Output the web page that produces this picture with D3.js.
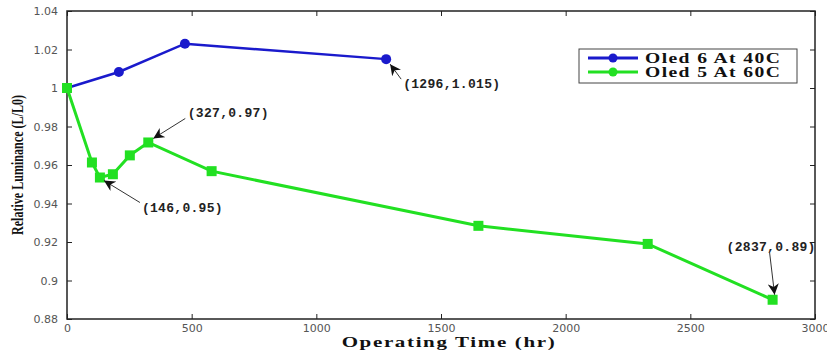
<!DOCTYPE html>
<html>
<head>
<meta charset="utf-8">
<script src="https://cdn.jsdelivr.net/npm/d3@7"></script>
<style>
  body { margin: 0; background: #fff; }
  .tick text { font-family: "DejaVu Sans", sans-serif; font-size: 11px; fill: #555; }
  .ann { font-family: "Liberation Mono", monospace; font-weight: bold; font-size: 13px; letter-spacing: 0.3px; fill: #222; }
</style>
</head>
<body>
<div id="chart"></div>
<script>
const oled6Time = [0, 208, 473, 1280];
const oled6Lum = [1.0, 1.0083, 1.023, 1.015];
const oled5Time = [0, 100, 132, 184, 252, 326, 580, 1650, 2329, 2830];
const oled5Lum = [1.0, 0.9613, 0.9535, 0.9552, 0.965, 0.9717, 0.9568, 0.9284, 0.919, 0.89];
const seriesNames = ["Oled 6 At 40C", "Oled 5 At 60C"];
const xTicks = [0, 500, 1000, 1500, 2000, 2500, 3000];
const yTicks = [0.88, 0.9, 0.92, 0.94, 0.96, 0.98, 1, 1.02, 1.04];
const annLabels = ["(1296,1.015)", "(327,0.97)", "(146,0.95)", "(2837,0.89)"];
const annTime = [1280, 326, 132, 2830];
const annLum = [1.015, 0.9717, 0.9535, 0.89];

// pixel placement of each callout relative to its point
const annLayout = [
  {tx: 17, ty: 29, anchor: "start", ax: 15, ay: 20, bx: 4, by: 5},
  {tx: 80, ty: -25, anchor: "middle", ax: 37, ay: -24, bx: 5, by: -4},
  {tx: 42, ty: 34, anchor: "start", ax: 40, ay: 25, bx: 4, by: 3},
  {tx: -46, ty: -49, anchor: "start", ax: -3, ay: -47, bx: 2, by: -5}
];

const W = 827, H = 350;
const margin = {top: 11, right: 12, bottom: 31, left: 67};
const width = W - margin.left - margin.right,
      height = H - margin.top - margin.bottom;

const svg = d3.select("#chart").append("svg")
    .attr("width", W).attr("height", H);

svg.append("defs").append("marker")
    .attr("id", "arr").attr("viewBox", "0 0 10 10")
    .attr("refX", 10).attr("refY", 5)
    .attr("markerWidth", 11).attr("markerHeight", 11)
    .attr("markerUnits", "userSpaceOnUse")
    .attr("orient", "auto")
  .append("path").attr("d", "M0,0 L10,5 L0,10 L3,5 Z").attr("fill", "#111");

const g = svg.append("g")
    .attr("transform", "translate(" + margin.left + "," + margin.top + ")");

const x = d3.scaleLinear().domain([0, 3000]).range([0, width]);
const y = d3.scaleLinear().domain([0.88, 1.04]).range([height, 0]);

const fmt = d => String(+d.toFixed(2));

g.append("g").attr("transform", "translate(0," + height + ")")
    .call(d3.axisBottom(x).tickValues(xTicks).tickSize(-5).tickPadding(5).tickFormat(d3.format("d")))
    .call(a => a.select(".domain").remove());
g.append("g")
    .call(d3.axisLeft(y).tickValues(yTicks).tickSize(-5).tickPadding(9).tickFormat(fmt))
    .call(a => a.select(".domain").remove());
// ticks on top and right
g.append("g")
    .call(d3.axisTop(x).tickValues(xTicks).tickSize(-5).tickFormat(""))
    .call(a => a.select(".domain").remove());
g.append("g").attr("transform", "translate(" + width + ",0)")
    .call(d3.axisRight(y).tickValues(yTicks).tickSize(-5).tickFormat(""))
    .call(a => a.select(".domain").remove());
g.selectAll(".tick line").attr("stroke", "#222");

g.append("rect").attr("width", width).attr("height", height)
    .attr("fill", "none").attr("stroke", "#222").attr("stroke-width", 1.5);

const line = d3.line().x(d => x(d[0])).y(d => y(d[1]));
const s6 = oled6Time.map((t, i) => [t, oled6Lum[i]]);
const s5 = oled5Time.map((t, i) => [t, oled5Lum[i]]);

g.append("path").datum(s6).attr("d", line)
    .attr("fill", "none").attr("stroke", "#1a1acc").attr("stroke-width", 2.5);
g.append("path").datum(s5).attr("d", line)
    .attr("fill", "none").attr("stroke", "#22e022").attr("stroke-width", 3);

g.selectAll(".m6").data(s6).enter().append("circle")
    .attr("cx", d => x(d[0])).attr("cy", d => y(d[1])).attr("r", 5)
    .attr("fill", "#1a1acc");
g.selectAll(".m5").data(s5).enter().append("rect")
    .attr("x", d => x(d[0]) - 5).attr("y", d => y(d[1]) - 5)
    .attr("width", 10).attr("height", 10)
    .attr("fill", "#22e022");

// callouts
annLabels.forEach((lab, i) => {
  const px = x(annTime[i]), py = y(annLum[i]), L = annLayout[i];
  g.append("line")
      .attr("x1", px + L.ax).attr("y1", py + L.ay)
      .attr("x2", px + L.bx).attr("y2", py + L.by)
      .attr("stroke", "#333").attr("stroke-width", 1).attr("marker-end", "url(#arr)");
  g.append("text").attr("class", "ann")
      .attr("x", px + L.tx).attr("y", py + L.ty)
      .attr("text-anchor", L.anchor)
      .text(lab);
});

// legend
const lg = svg.append("g").attr("transform", "translate(579,49)");
lg.append("rect").attr("width", 218).attr("height", 34)
    .attr("fill", "#fff").attr("stroke", "#444").attr("stroke-width", 1);
const colors = ["#1a1acc", "#22e022"];
seriesNames.forEach((n, i) => {
  const yy = 9 + i * 14;
  lg.append("line").attr("x1", 9).attr("x2", 59).attr("y1", yy).attr("y2", yy)
      .attr("stroke", colors[i]).attr("stroke-width", 3);
  lg.append("circle").attr("cx", 34).attr("cy", yy).attr("r", 4.5).attr("fill", colors[i]);
  lg.append("text").attr("transform", "translate(66," + (yy + 5) + ") scale(1.4,1)")
      .attr("font-family", "Liberation Serif, serif").attr("font-weight", "bold")
      .attr("font-size", 14).attr("letter-spacing", "1px").attr("fill", "#111")
      .text(n);
});

// axis titles
svg.append("text").attr("transform", "translate(449,347) scale(1.5,1)")
    .attr("text-anchor", "middle")
    .attr("font-family", "Liberation Serif, serif").attr("font-weight", "bold")
    .attr("font-size", 14).attr("letter-spacing", "1.1px").attr("fill", "#111")
    .text("Operating Time (hr)");
svg.append("text").attr("transform", "translate(23,165) rotate(-90) scale(0.71,1)")
    .attr("text-anchor", "middle")
    .attr("font-family", "Liberation Serif, serif").attr("font-weight", "bold")
    .attr("font-size", 17).attr("fill", "#111")
    .text("Relative Luminance (L/L0)");
</script>
</body>
</html>
